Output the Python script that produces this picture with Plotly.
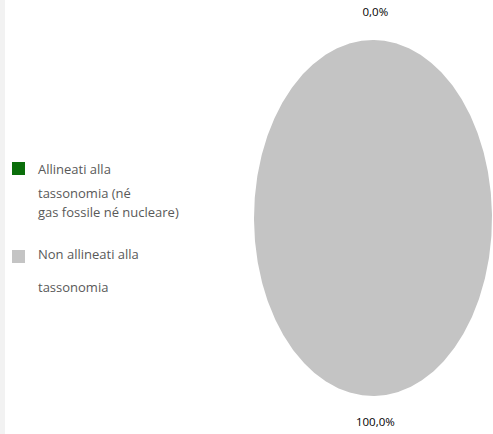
import numpy as np
import plotly.graph_objects as go

categories = ["Allineati alla tassonomia (né gas fossile né nucleare)",
              "Non allineati alla tassonomia"]
legend_lines = [["Allineati alla", "tassonomia (né", "gas fossile né nucleare)"],
                ["Non allineati alla", "tassonomia"]]
values = [0.0, 100.0]
labels = ["0,0%", "100,0%"]
colors = ["#0A6E0A", "#C4C4C4"]

W, H = 493, 434
fig = go.Figure()

total = sum(values)
start = 90.0
for cat, v, lab, col in zip(categories, values, labels, colors):
    sweep = 360.0 * v / total
    ang = np.radians(np.linspace(start, start - sweep, max(int(sweep * 2), 2)))
    xs = np.concatenate([[0], np.cos(ang), [0]])
    ys = np.concatenate([[0], np.sin(ang), [0]])
    if v > 0:
        fig.add_trace(go.Scatter(x=xs, y=ys, fill="toself", fillcolor=col,
                                 mode="lines", line=dict(width=0, color=col),
                                 name=cat, showlegend=False, hoverinfo="skip"))
    mid = np.radians(start - sweep / 2)
    r = 1.15
    fig.add_trace(go.Scatter(x=[r * np.cos(mid) + 0.02], y=[r * np.sin(mid)],
                             mode="text", text=[lab],
                             textfont=dict(family="Open Sans", size=11.5, color="#000000"),
                             showlegend=False, hoverinfo="skip"))
    start -= sweep

# legend keys and text (pixel layout)
key_tops = [162, 250]
line_centers = [[169, 193, 212], [254, 287]]
for col, top, lines, centers in zip(colors, key_tops, legend_lines, line_centers):
    fig.add_shape(type="rect", xref="paper", yref="paper",
                  x0=12 / W, x1=25 / W, y0=1 - (top + 13) / H, y1=1 - top / H,
                  fillcolor=col, line=dict(width=0))
    for txt, cy in zip(lines, centers):
        fig.add_annotation(xref="paper", yref="paper", x=36 / W, y=1 - cy / H,
                           xanchor="left", yanchor="middle", text=txt, showarrow=False,
                           font=dict(family="Open Sans", size=13, color="#595959"))

fig.add_shape(type="rect", xref="paper", yref="paper", x0=0, x1=5 / W, y0=0, y1=1,
              fillcolor="#F2F2F2", line=dict(width=0), layer="below")

fig.update_layout(
    width=W, height=H,
    margin=dict(l=0, r=0, t=0, b=0),
    plot_bgcolor="white", paper_bgcolor="white",
    xaxis=dict(range=[-1 - 254 / 119, 1 + 1 / 119], visible=False, fixedrange=True),
    yaxis=dict(range=[-1 - 38 / 178, 1 + 40 / 178], visible=False, fixedrange=True),
    showlegend=False,
)

fig.write_html("out.html", config={"displayModeBar": False, "staticPlot": True},
               post_script="document.body.style.margin='0';document.body.style.overflow='hidden';")
